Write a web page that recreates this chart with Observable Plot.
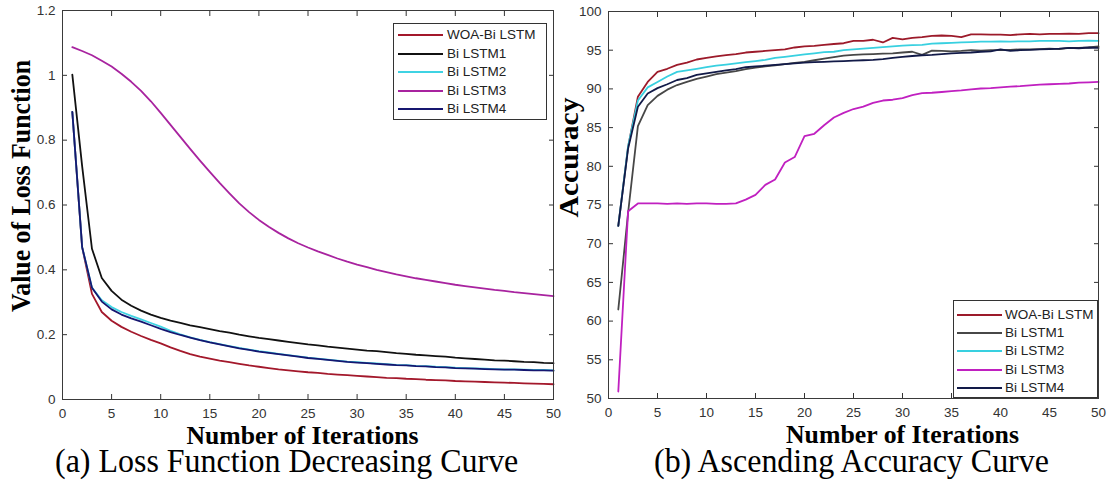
<!DOCTYPE html>
<html><head><meta charset="utf-8">
<script src="https://cdn.jsdelivr.net/npm/d3@7"></script>
<script src="https://cdn.jsdelivr.net/npm/@observablehq/plot@0.6"></script>
<style>
body{margin:0;background:#fff;}
#wrap{position:relative;width:1110px;height:483px;overflow:hidden;background:#fff;}
.panel{position:absolute;top:0;}
.cap{position:absolute;font-family:"Liberation Serif","Times New Roman",serif;font-size:34px;line-height:24px;white-space:nowrap;transform-origin:0 0;transform:scaleX(0.94);color:#000;}
.legend{position:absolute;border:1px solid #333;background:#fff;box-sizing:border-box;}
.row{position:absolute;left:0;width:100%;height:0;}
.row .sw{position:absolute;top:-1px;height:0;border-top:2px solid;}
.row .lb{position:absolute;top:-8px;font-family:"Liberation Sans",Arial,sans-serif;font-size:13.5px;line-height:16px;color:#222;white-space:nowrap;}
</style></head><body><div id="wrap"></div>
<script>
// ---------- data ----------
const iterations = d3.range(1, 51);
const seriesNames = ["WOA-Bi LSTM", "Bi LSTM1", "Bi LSTM2", "Bi LSTM3", "Bi LSTM4"];

const lossWOA = [0.887,0.47,0.326,0.27,0.243,0.224,0.209,0.196,0.184,0.173,
  0.161,0.15,0.14,0.132,0.126,0.12,0.115,0.11,0.105,0.101,
  0.097,0.093,0.09,0.087,0.084,0.082,0.079,0.077,0.075,0.073,
  0.071,0.069,0.067,0.066,0.064,0.063,0.061,0.06,0.059,0.057,
  0.056,0.055,0.054,0.053,0.052,0.051,0.05,0.049,0.048,0.047];
const lossB1 = [1.002,0.72,0.465,0.375,0.335,0.308,0.289,0.274,0.262,0.252,
  0.243,0.236,0.229,0.223,0.217,0.211,0.206,0.2,0.195,0.19,
  0.186,0.182,0.178,0.174,0.17,0.167,0.163,0.16,0.157,0.154,
  0.151,0.149,0.146,0.143,0.141,0.138,0.136,0.134,0.132,0.129,
  0.127,0.125,0.123,0.121,0.12,0.118,0.116,0.115,0.113,0.112];
const lossB2 = [0.887,0.47,0.345,0.306,0.285,0.27,0.258,0.247,0.236,0.225,
  0.212,0.201,0.192,0.184,0.177,0.171,0.165,0.159,0.154,0.149,
  0.145,0.141,0.137,0.133,0.129,0.126,0.123,0.12,0.117,0.115,
  0.113,0.111,0.109,0.107,0.106,0.104,0.103,0.101,0.1,0.098,
  0.097,0.096,0.095,0.094,0.093,0.093,0.092,0.091,0.091,0.09];
const lossB3 = [1.087,1.075,1.062,1.045,1.027,1.005,0.98,0.952,0.92,0.884,
  0.847,0.81,0.773,0.737,0.702,0.668,0.636,0.605,0.578,0.554,
  0.533,0.514,0.497,0.482,0.469,0.457,0.446,0.435,0.425,0.416,
  0.408,0.4,0.393,0.386,0.38,0.374,0.369,0.364,0.359,0.354,
  0.35,0.346,0.342,0.338,0.335,0.331,0.328,0.325,0.322,0.319];
const lossB4 = [0.887,0.47,0.345,0.302,0.278,0.262,0.25,0.24,0.229,0.218,
  0.208,0.199,0.191,0.183,0.176,0.17,0.164,0.158,0.153,0.148,
  0.144,0.14,0.136,0.132,0.128,0.125,0.122,0.119,0.116,0.114,
  0.112,0.11,0.108,0.106,0.105,0.103,0.102,0.1,0.099,0.097,
  0.096,0.095,0.094,0.093,0.092,0.092,0.091,0.09,0.09,0.089];

const accWOA = [72.3,82.5,89.0,90.9,92.2,92.6,93.1,93.4,93.8,94.0,
  94.2,94.35,94.5,94.7,94.8,94.9,95.0,95.1,95.35,95.5,
  95.55,95.7,95.8,95.9,96.2,96.2,96.35,96.0,96.6,96.4,
  96.6,96.7,96.85,96.9,96.85,96.7,97.05,97.05,97.0,97.0,
  96.95,97.05,97.1,97.05,97.1,97.1,97.15,97.1,97.2,97.2];
const accB1 = [61.5,74.0,85.2,87.9,89.1,89.9,90.5,90.9,91.3,91.6,
  91.9,92.1,92.3,92.55,92.75,92.9,93.05,93.2,93.35,93.5,
  93.7,93.9,94.1,94.3,94.4,94.45,94.5,94.55,94.6,94.7,
  94.8,94.4,94.95,94.9,94.85,94.9,95.0,94.95,95.0,95.0,
  95.05,95.1,95.1,95.15,95.2,95.15,95.3,95.3,95.35,95.5];
const accB2 = [72.3,82.6,88.5,90.2,90.9,91.6,92.2,92.4,92.6,92.8,
  93.0,93.15,93.3,93.45,93.6,93.75,94.0,94.15,94.3,94.45,
  94.6,94.75,94.8,95.0,95.1,95.2,95.3,95.4,95.5,95.6,
  95.65,95.7,95.85,95.9,95.95,96.0,96.05,96.1,96.1,96.15,
  96.1,96.15,96.15,96.2,96.2,96.2,96.15,96.2,96.25,96.2];
const accB3 = [50.9,74.2,75.2,75.2,75.2,75.15,75.2,75.15,75.2,75.2,
  75.15,75.15,75.2,75.7,76.3,77.6,78.3,80.5,81.2,83.9,
  84.2,85.3,86.3,86.9,87.4,87.7,88.2,88.5,88.6,88.8,
  89.2,89.45,89.5,89.6,89.7,89.8,89.95,90.05,90.1,90.2,
  90.3,90.35,90.45,90.55,90.6,90.65,90.7,90.8,90.85,90.9];
const accB4 = [72.3,82.3,87.7,89.4,90.1,90.6,91.15,91.4,91.8,92.0,
  92.2,92.4,92.55,92.8,92.9,93.0,93.1,93.2,93.3,93.4,
  93.45,93.5,93.55,93.6,93.65,93.7,93.75,93.85,94.0,94.15,
  94.25,94.35,94.4,94.5,94.6,94.65,94.7,94.8,94.85,95.1,
  94.9,95.0,95.05,95.1,95.15,95.2,95.3,95.25,95.35,95.3];

const xTicks = [0,5,10,15,20,25,30,35,40,45,50];
const lossTicks = [0,0.2,0.4,0.6,0.8,1,1.2];
const accTicks = [50,55,60,65,70,75,80,85,90,95,100];

const xTitle = "Number of Iterations";
const lossTitle = "Value of Loss Function";
const accTitle = "Accuracy";
const captionA = "(a) Loss Function Decreasing Curve";
const captionB = "(b) Ascending Accuracy Curve";

const lossColors = ["#a3182b", "#111111", "#3fd3e3", "#a8239f", "#161670"];
const accColors  = ["#9c1a2a", "#474747", "#38d0e0", "#c020c0", "#121a48"];

// ---------- build ----------
const lossValues = [lossWOA, lossB1, lossB2, lossB3, lossB4];
const accValues = [accWOA, accB1, accB2, accB3, accB4];
const toTable = vals => seriesNames.flatMap((s, k) => vals[k].map((v, i) => ({series: s, iter: iterations[i], value: v})));

function panel({table, colors, yDomain, yTicks, yFmt, yTitle, ml, mr, mt, mb, xTitleDx, yTitleDx, yTitleDy, xLen, yLen}) {
  const common = {label: null};
  const blank = () => "";
  const svg = Plot.plot({
    width: 555, height: 450,
    marginLeft: ml, marginRight: mr, marginTop: mt, marginBottom: mb,
    style: {fontFamily: "'Liberation Sans', Arial, sans-serif", fontSize: "13.5px", color: "#333", background: "transparent", overflow: "visible"},
    x: {domain: [0, 50]},
    y: {domain: yDomain},
    color: {domain: seriesNames, range: colors},
    marks: [
      Plot.axisX({...common, anchor: "bottom", ticks: xTicks, tickSize: 0, tickPadding: 9, fontSize: 13.5}),
      Plot.axisX({...common, anchor: "bottom", ticks: xTicks, tickSize: 5, dy: -5, tickFormat: blank}),
      Plot.axisX({...common, anchor: "top", ticks: xTicks, tickSize: 5, dy: 5, tickFormat: blank}),
      Plot.axisY({...common, anchor: "left", ticks: yTicks, tickSize: 0, tickPadding: 7, tickFormat: yFmt, fontSize: 13.5}),
      Plot.axisY({...common, anchor: "left", ticks: yTicks, tickSize: 5, dx: 5, tickFormat: blank}),
      Plot.axisY({...common, anchor: "right", ticks: yTicks, tickSize: 5, dx: -5, tickFormat: blank}),
      Plot.line(table, {x: "iter", y: "value", z: "series", stroke: "series", strokeWidth: 1.8}),
      Plot.frame({stroke: "#3a3a3a"}),
      Plot.text([xTitle], {text: d => d, frameAnchor: "bottom", textAnchor: "middle", lineAnchor: "bottom", dx: xTitleDx, dy: 44,
        fontFamily: "'Liberation Serif', 'Times New Roman', serif", fontWeight: "bold", fontSize: 25, fill: "black"}),
      Plot.text([yTitle], {text: d => d, frameAnchor: "left", textAnchor: "middle", lineAnchor: "bottom", rotate: -90, dx: yTitleDx, dy: yTitleDy,
        fontFamily: "'Liberation Serif', 'Times New Roman', serif", fontWeight: "bold", fontSize: 27, fill: "black"})
    ]
  });
  d3.select(svg).selectAll("text").each(function() {
    const t = this.textContent;
    if (t === xTitle) { this.setAttribute("textLength", xLen); this.setAttribute("lengthAdjust", "spacingAndGlyphs"); }
    if (t === yTitle) { this.setAttribute("textLength", yLen); this.setAttribute("lengthAdjust", "spacingAndGlyphs"); }
  });
  return svg;
}

const wrap = document.getElementById("wrap");

const left = panel({table: toTable(lossValues), colors: lossColors, yDomain: [0, 1.2], yTicks: lossTicks,
  yFmt: d => String(+d.toFixed(1)), yTitle: lossTitle, ml: 62, mr: 2, mt: 10, mb: 51,
  xTitleDx: -5.5, yTitleDx: -32.5, yTitleDy: -19, xLen: 232, yLen: 252});
left.classList.add("panel"); left.style.left = "0px";
wrap.appendChild(left);

const right = panel({table: toTable(accValues), colors: accColors, yDomain: [50, 100], yTicks: accTicks,
  yFmt: d => String(d), yTitle: accTitle, ml: 53, mr: 12, mt: 11, mb: 52,
  xTitleDx: 49, yTitleDx: -30.5, yTitleDy: -47.5, xLen: 233, yLen: 120});
right.classList.add("panel"); right.style.left = "555px";
wrap.appendChild(right);

// legends
function legend(x, y, w, h, colors, row0, rowStep, lineX, lineW, textX) {
  const box = document.createElement("div");
  box.className = "legend";
  Object.assign(box.style, {left: x + "px", top: y + "px", width: w + "px", height: h + "px"});
  seriesNames.forEach((s, i) => {
    const r = document.createElement("div");
    r.className = "row";
    r.style.top = (row0 + i * rowStep) + "px";
    const sw = document.createElement("div");
    sw.className = "sw";
    Object.assign(sw.style, {left: lineX + "px", width: lineW + "px", borderTopColor: colors[i]});
    const lb = document.createElement("div");
    lb.className = "lb";
    lb.style.left = textX + "px";
    lb.textContent = s;
    r.appendChild(sw); r.appendChild(lb);
    box.appendChild(r);
  });
  wrap.appendChild(box);
}
legend(393, 23, 154, 97, lossColors, 11, 18.6, 4, 45, 53);
legend(953, 300, 145, 98, accColors, 14, 18.2, 3, 45, 51);

// captions
[[captionA, 55], [captionB, 654]].forEach(([t, x]) => {
  const c = document.createElement("div");
  c.className = "cap";
  c.style.left = x + "px";
  c.style.top = "449px";
  c.textContent = t;
  wrap.appendChild(c);
});
</script></body></html>
